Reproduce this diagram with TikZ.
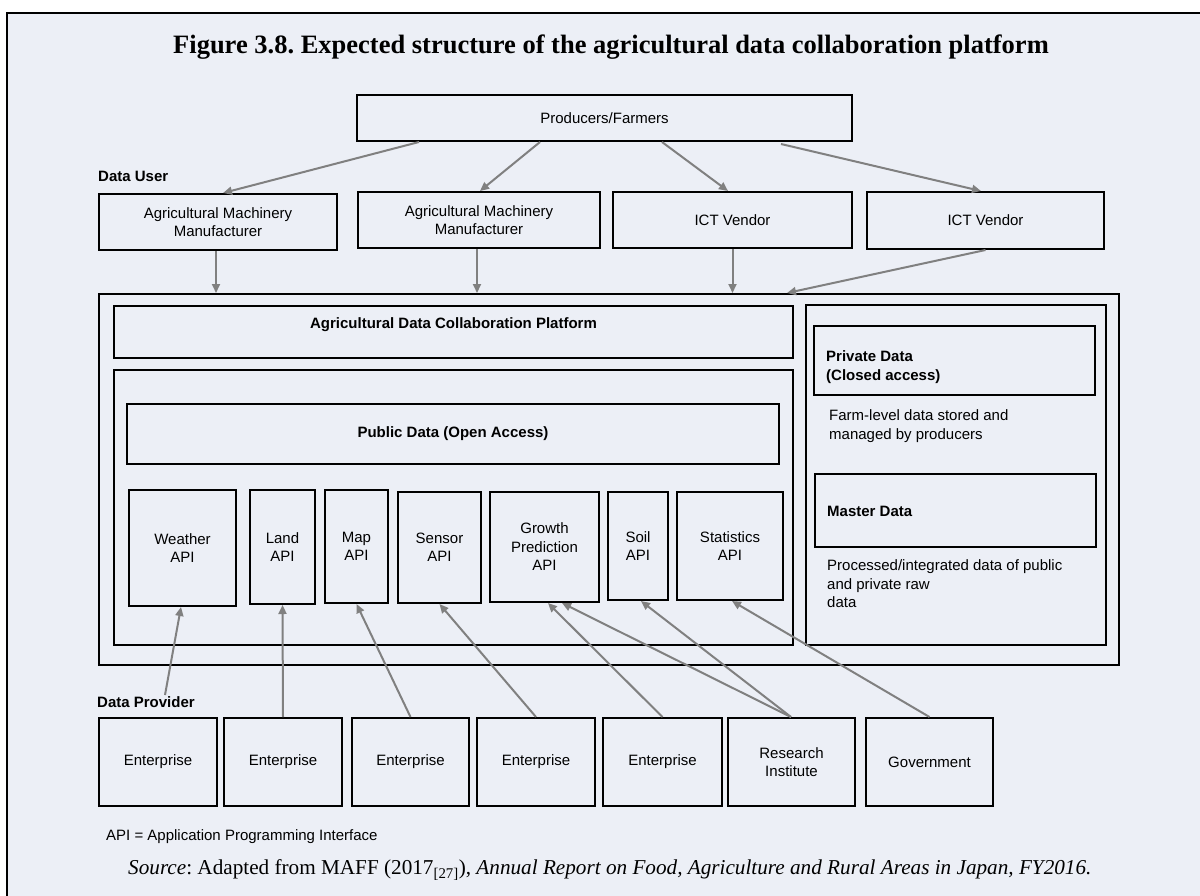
\documentclass[tikz,border=0pt]{standalone}
\usepackage{fontspec}
\setmainfont{Liberation Serif}
\setsansfont{Liberation Sans}
\usetikzlibrary{arrows.meta,calc}
\definecolor{panelbg}{RGB}{236,239,246}
\definecolor{flowgray}{RGB}{128,128,128}
\tikzset{
  box/.style={draw=black, line width=2pt, inner sep=0pt, align=center,
    font=\sffamily\fontsize{15}{18.5}\selectfont},
  flow/.style={draw=flowgray, line width=2pt, -{Triangle[length=9pt,width=8pt]}},
  head/.style={font=\sffamily\bfseries\fontsize{15}{18.5}\selectfont, inner sep=0pt, align=left},
  note/.style={font=\sffamily\fontsize{15}{18.5}\selectfont, inner sep=0pt, align=left},
}
\frenchspacing
\begin{document}
\begin{tikzpicture}[x=1pt,y=-1pt]
\useasboundingbox (0,0) rectangle (1200,895);
\clip (0,0) rectangle (1200,895);
% page and figure panel
\fill[white] (0,0) rectangle (1200,895);
\fill[panelbg] (7,13) rectangle (1210,905);
\draw[black, line width=2pt] (7,905) -- (7,13) -- (1210,13);

% title
\node[font=\bfseries\fontsize{26.5}{30}\selectfont, inner sep=0pt] (title) at (611,47)
  {Figure 3.8. Expected structure of the agricultural data collaboration platform};

% producers and data users
\node[box, minimum width=495pt, minimum height=46pt] (prod) at (604.5,118) {Producers/Farmers};
\node[head, anchor=west] (user) at (98,176) {Data User};
\node[box, minimum width=238pt, minimum height=56pt] (amm1) at (218,222) {Agricultural Machinery\\Manufacturer};
\node[box, minimum width=242pt, minimum height=56pt] (amm2) at (479,220) {Agricultural Machinery\\Manufacturer};
\node[box, minimum width=239pt, minimum height=56pt] (ict1) at (732.5,220) {ICT Vendor};
\node[box, minimum width=237pt, minimum height=57pt] (ict2) at (985.5,220.5) {ICT Vendor};

% platform
\node[box, minimum width=1020pt, minimum height=371pt] (outer) at (609,479.5) {};
\node[box, minimum width=679pt, minimum height=52pt] (plat) at (453.5,332) {};
\node[head] (platt) at (453.5,325) {Agricultural Data Collaboration Platform};
\node[box, minimum width=679pt, minimum height=275pt] (inner) at (453.5,507.5) {};
\node[box, minimum width=652pt, minimum height=60pt, font=\sffamily\bfseries\fontsize{15}{18.5}\selectfont] (pub) at (453,434) {Public Data (Open Access)};

% APIs
\node[box, minimum width=107pt, minimum height=116pt] (weather) at (182.5,548) {Weather\\API};
\node[box, minimum width=65pt, minimum height=114pt] (land) at (282.5,547) {Land\\API};
\node[box, minimum width=63pt, minimum height=113pt] (map) at (356.5,546.5) {Map\\API};
\node[box, minimum width=83pt, minimum height=111pt] (sensor) at (439.5,547.5) {Sensor\\API};
\node[box, minimum width=109pt, minimum height=110pt] (growth) at (544.5,547) {Growth\\Prediction\\API};
\node[box, minimum width=60pt, minimum height=108pt] (soil) at (638,546) {Soil\\API};
\node[box, minimum width=106pt, minimum height=108pt] (stats) at (730,546) {Statistics\\API};

% private and master data
\node[box, minimum width=300pt, minimum height=340pt] (side) at (956,475) {};
\node[box, minimum width=281pt, minimum height=69pt] (priv) at (954.5,360.5) {};
\node[head, anchor=west] (privt) at (826,367) {Private Data\\(Closed access)};
\node[note, anchor=west] (privn) at (829,426) {Farm-level data stored and\\managed by producers};
\node[box, minimum width=281pt, minimum height=73pt] (mast) at (955.5,510.5) {};
\node[head, anchor=west] (mastt) at (827,511) {Master Data};
\node[note, anchor=west] (mastn) at (827,584) {Processed/integrated data of public\\and private raw\\data};

% data providers
\node[head, anchor=west] (prov) at (97,702) {Data Provider};
\node[box, minimum width=118pt, minimum height=88pt] (e1) at (158,762) {Enterprise};
\node[box, minimum width=118pt, minimum height=88pt] (e2) at (283,762) {Enterprise};
\node[box, minimum width=117pt, minimum height=88pt] (e3) at (410.5,762) {Enterprise};
\node[box, minimum width=118pt, minimum height=88pt] (e4) at (536,762) {Enterprise};
\node[box, minimum width=119pt, minimum height=88pt] (e5) at (662.5,762) {Enterprise};
\node[box, minimum width=127pt, minimum height=88pt] (res) at (791.5,762) {Research\\Institute};
\node[box, minimum width=127pt, minimum height=88pt] (gov) at (929.5,762) {Government};
\coordinate (dpx) at (165,695);

% notes
\node[note, anchor=west] (abbr) at (106,837) {API = Application Programming Interface};
\node[font=\fontsize{21.2}{24}\selectfont, inner sep=0pt, anchor=west] (src) at (128,870)
  {\textit{Source}: Adapted from MAFF (2017\textsubscript{[27]}), \textit{Annual Report on Food, Agriculture and Rural Areas in Japan, FY2016.}};

% producers to data users
\draw[flow] ($(prod.south)+(-185.5,0)$) -- ($(amm1.north)+(5,0)$);
\draw[flow] ($(prod.south)+(-64.5,0)$) -- ($(amm2.north)+(1,0)$);
\draw[flow] ($(prod.south)+(57.5,0)$) -- ($(ict1.north)+(-4.5,0)$);
\draw[flow] ($(prod.south)+(176.5,2)$) -- ($(ict2.north)+(-4.5,0)$);

% data users to platform
\draw[flow] ($(amm1.south)+(-2,0)$) -- ($(amm1.south |- outer.north)+(-2,0)$);
\draw[flow] ($(amm2.south)+(-2,0)$) -- ($(amm2.south |- outer.north)+(-2,0)$);
\draw[flow] (ict1.south) -- (ict1.south |- outer.north);
\draw[flow] (ict2.south) -- ($(outer.north)+(178,0)$);

% providers to APIs
\draw[flow] (dpx) -- ($(weather.south)+(-1.5,0)$);
\draw[flow] (e2.north) -- (land.south);
\draw[flow] (e3.north) -- (map.south);
\draw[flow] (e4.north) -- (sensor.south);
\draw[flow] (e5.north) -- ($(growth.south)+(3.5,0)$);
\draw[flow] ($(res.north)+(-0.5,0)$) -- ($(growth.south)+(17.5,0)$);
\draw[flow] ($(res.north)+(-0.5,0)$) -- ($(soil.south)+(3,0)$);
\draw[flow] (gov.north) -- ($(stats.south)+(2,0)$);
\end{tikzpicture}
\end{document}
